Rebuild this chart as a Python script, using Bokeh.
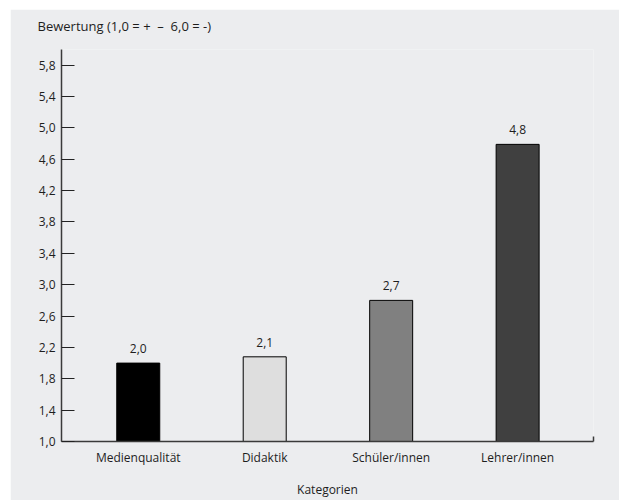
from bokeh.plotting import figure
from bokeh.models import Range1d, FixedTicker, CustomJSTickFormatter, ColumnDataSource, Title
from bokeh.embed import file_html
from bokeh.resources import INLINE

# ---- data ----
categories = ["Medienqualität", "Didaktik", "Schüler/innen", "Lehrer/innen"]
bar_values = [2.0, 2.08, 2.8, 4.79]
value_labels = ["2,0", "2,1", "2,7", "4,8"]
bar_colors = ["#000000", "#dedede", "#808080", "#404040"]
y_ticks = [1.0, 1.4, 1.8, 2.2, 2.6, 3.0, 3.4, 3.8, 4.2, 4.6, 5.0, 5.4, 5.8]
y_title = "Bewertung (1,0 = +\u00a0\u00a0–\u00a0\u00a06,0 = -)"
x_title = "Kategorien"

FONT = "Open Sans"
TXT = "#1e1e1e"
BG = "#ecedef"

x_start, x_end = -0.607, 3.6
y_start, y_end = 1.0, 6.0

xs = list(range(len(categories)))
src = ColumnDataSource(dict(x=xs, top=bar_values, color=bar_colors, lab=value_labels))

p = figure(width=609, height=491, output_backend="svg", toolbar_location=None,
           x_range=Range1d(x_start, x_end), y_range=Range1d(y_start, y_end),
           min_border_left=51, min_border_right=26, min_border_top=39, min_border_bottom=55)
p.margin = (9, 0, 0, 10)
p.background_fill_color = BG
p.border_fill_color = BG
p.outline_line_color = None
p.grid.visible = False

p.title.text = y_title
p.title.align = "left"
p.title.offset = -24
p.title.text_font = FONT
p.title.text_font_size = "13px"
p.title.text_font_style = "normal"
p.title.text_color = TXT
# small empty spacer between title and plot frame
p.add_layout(Title(text=" ", text_font_size="5px", standoff=2), "above")

p.vbar(x="x", top="top", bottom=y_start, width=0.34, source=src,
       fill_color="color", line_color="#000000", line_width=1)
p.text(x="x", y="top", text="lab", source=src, text_align="center", text_baseline="bottom",
       y_offset=-10, text_font_size="12px", text_color=TXT,
       text_font={"value": FONT})

# y axis
ya = p.yaxis[0]
ya.ticker = FixedTicker(ticks=y_ticks, minor_ticks=[])
ya.formatter = CustomJSTickFormatter(code="return tick.toFixed(1).replace('.', ',');")
ya.major_tick_in = 13
ya.major_tick_out = 0
ya.minor_tick_in = 0
ya.minor_tick_out = 0
ya.major_label_standoff = 6
ya.axis_line_color = "#3a3a3a"
ya.axis_line_width = 1.5
ya.major_tick_line_color = "#222222"
ya.major_tick_line_width = 1.2
ya.major_label_text_font = FONT
ya.major_label_text_font_size = "12px"
ya.major_label_text_color = TXT

# x axis
xa = p.xaxis[0]
xa.ticker = FixedTicker(ticks=xs, minor_ticks=[x_end])
xa.major_label_overrides = {i: c for i, c in zip(xs, categories)}
xa.major_tick_in = 0
xa.major_tick_out = 0
xa.minor_tick_in = 5
xa.minor_tick_out = 0
xa.minor_tick_line_color = "#3a3a3a"
xa.minor_tick_line_width = 1.5
xa.axis_line_color = "#3a3a3a"
xa.axis_line_width = 1.5
xa.major_label_standoff = 7
xa.major_label_text_font = FONT
xa.major_label_text_font_size = "12px"
xa.major_label_text_color = TXT
xa.axis_label = x_title
xa.axis_label_standoff = 12
xa.axis_label_text_font = FONT
xa.axis_label_text_font_size = "12px"
xa.axis_label_text_font_style = "normal"
xa.axis_label_text_color = TXT

open("out.html", "w").write(file_html(p, INLINE))
